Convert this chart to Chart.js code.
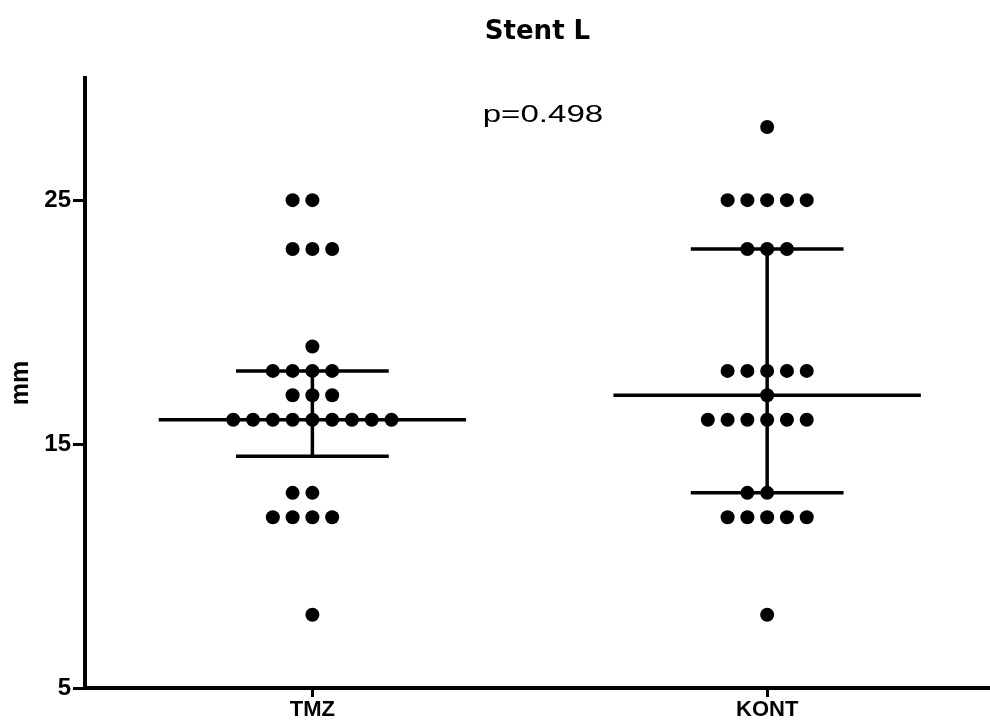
<!DOCTYPE html>
<html>
<head>
<meta charset="utf-8">
<script src="https://cdn.jsdelivr.net/npm/chart.js@4.4.1/dist/chart.umd.min.js"></script>
<style>
    html, body { margin: 0; padding: 0; background: #fff; }
    #wrap { width: 990px; height: 722px; }
</style>
</head>
<body>
<div id="wrap"><canvas id="chart-stent"></canvas></div>
<script>
//*** DATA ***//
const groups = ['TMZ', 'KONT'];
const tmzValues = [25, 25, 23, 23, 23, 19, 18, 18, 18, 18, 17, 17, 17,
    16, 16, 16, 16, 16, 16, 16, 16, 16, 13, 13, 12, 12, 12, 12, 8];
const kontValues = [28, 25, 25, 25, 25, 25, 23, 23, 23, 18, 18, 18, 18, 18, 17,
    16, 16, 16, 16, 16, 16, 13, 13, 12, 12, 12, 12, 12, 8];
const yTicks = [5, 15, 25];
const pValueText = 'p=0.498';

//*** FUNCTIONS ***//
const DOT_STEP = 0.0435;   // horizontal spacing of stacked dots (x units)
const MEDIAN_HALF = 0.338; // half width of the median line
const QUART_HALF = 0.168;  // half width of the quartile caps

// place equal values side by side (GraphPad style)
const swarm = (values, center) => {
    const counts = {};
    values.forEach(v => counts[v] = (counts[v] || 0) + 1);
    const seen = {};
    return values.map(v => {
        seen[v] = seen[v] === undefined ? 0 : seen[v] + 1;
        return { x: center + (seen[v] - Math.floor(counts[v] / 2)) * DOT_STEP, y: v };
    });
};

const quantile = (values, p) => {
    const s = [...values].sort((a, b) => a - b);
    const pos = p * (s.length + 1) - 1;
    const lo = Math.floor(pos), hi = Math.ceil(pos);
    return s[lo] + (s[hi] - s[lo]) * (pos - lo);
};

// median line, quartile caps and the vertical bar between them
const medianBars = (values, c) => {
    const med = quantile(values, 0.5);
    const q1 = quantile(values, 0.25);
    const q3 = quantile(values, 0.75);
    return [
        { x: c - MEDIAN_HALF, y: med }, { x: c + MEDIAN_HALF, y: med }, { x: c, y: null },
        { x: c - QUART_HALF, y: q3 }, { x: c + QUART_HALF, y: q3 }, { x: c, y: null },
        { x: c - QUART_HALF, y: q1 }, { x: c + QUART_HALF, y: q1 }, { x: c, y: null },
        { x: c, y: q1 }, { x: c, y: q3 }
    ];
};

const boldFont = size => ({ family: '"Liberation Sans", Arial, sans-serif', weight: 'bold', size });

const pValuePlugin = {
    id: 'pValue',
    afterDatasetsDraw(chart) {
        const { ctx, scales: { x, y } } = chart;
        ctx.save();
        ctx.font = '24px "Liberation Sans", Arial, sans-serif';
        ctx.fillStyle = '#000';
        ctx.textAlign = 'center';
        ctx.textBaseline = 'alphabetic';
        ctx.translate(x.getPixelForValue(1.507), y.getPixelForValue(28.2));
        ctx.scale(1.38, 1);
        ctx.fillText(pValueText, 0, 0);
        ctx.restore();
    }
};

//*** CHART ***//
const lineStyle = {
    type: 'line',
    borderColor: '#000',
    borderWidth: 3.5,
    borderCapStyle: 'butt',
    pointRadius: 0,
    fill: false,
    spanGaps: false
};

new Chart(document.getElementById('chart-stent'), {
    type: 'scatter',
    data: {
        datasets: [
            { label: 'TMZ', data: swarm(tmzValues, 1), pointRadius: 7, backgroundColor: '#000', borderWidth: 0 },
            { label: 'KONT', data: swarm(kontValues, 2), pointRadius: 7, backgroundColor: '#000', borderWidth: 0 },
            { ...lineStyle, label: 'TMZ median', data: medianBars(tmzValues, 1) },
            { ...lineStyle, label: 'KONT median', data: medianBars(kontValues, 2) }
        ]
    },
    options: {
        responsive: true,
        maintainAspectRatio: false,
        animation: false,
        layout: { padding: 0, autoPadding: false },
        plugins: {
            legend: { display: false },
            tooltip: { enabled: false },
            title: {
                display: true,
                text: 'Stent L',
                fullSize: false,
                color: '#000',
                font: { family: '"DejaVu Sans", sans-serif', weight: 'bold', size: 26 },
                padding: { top: 17, bottom: 30 }
            }
        },
        scales: {
            x: {
                type: 'linear',
                min: 0.5,
                max: 2.49,
                afterBuildTicks: s => { s.ticks = groups.map((g, i) => ({ value: i + 1 })); },
                afterFit: s => { s.height = 34; s.paddingLeft = 0; s.paddingRight = 0; },
                border: { display: true, color: '#000', width: 4 },
                grid: { display: true, drawOnChartArea: false, drawTicks: true, tickLength: 9, tickWidth: 3, tickColor: '#000' },
                ticks: { callback: v => groups[v - 1], color: '#000', font: boldFont(22), padding: 0, autoSkip: false, maxRotation: 0 }
            },
            y: {
                min: 5,
                max: 30,
                afterBuildTicks: s => { s.ticks = yTicks.map(v => ({ value: v })); },
                afterFit: s => { s.width = 85; },
                border: { display: true, color: '#000', width: 4 },
                grid: { display: true, drawOnChartArea: false, drawTicks: true, tickLength: 12, tickWidth: 3, tickColor: '#000' },
                ticks: { color: '#000', font: boldFont(24), padding: 2 },
                title: { display: true, text: 'mm', color: '#000', font: boldFont(25), padding: { top: 6, bottom: 0 } }
            }
        }
    },
    plugins: [pValuePlugin]
});
</script>
</body>
</html>
